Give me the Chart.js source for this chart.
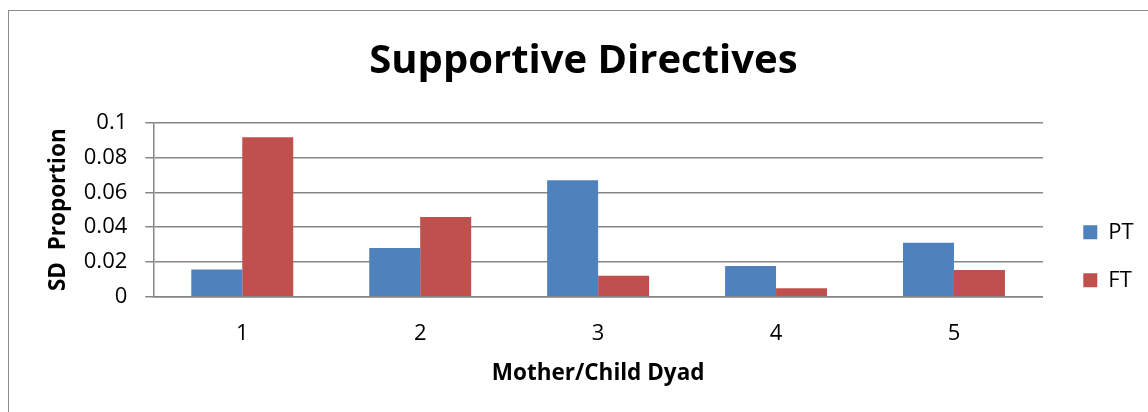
<!DOCTYPE html>
<html>
<head>
<meta charset="utf-8">
<script src="https://cdn.jsdelivr.net/npm/chart.js@4.4.1/dist/chart.umd.min.js"></script>
<style>
  html, body { margin: 0; padding: 0; background: #ffffff; overflow: hidden; }
  #frame { position: absolute; left: 8px; top: 10px; width: 1200px; height: 460px; border: 1px solid #8a8a8a; box-sizing: border-box; }
  #wrap { position: absolute; left: 0; top: 0; width: 1148px; height: 412px; }
</style>
</head>
<body>
<div id="frame"></div>
<div id="wrap"><canvas id="c" width="1148" height="412"></canvas></div>
<script>
const categories = ['1', '2', '3', '4', '5'];
const ptValues = [0.0157, 0.0280, 0.0669, 0.0176, 0.0310];
const ftValues = [0.0916, 0.0458, 0.0121, 0.0048, 0.0153];
const yTickLabels = ['0', '0.02', '0.04', '0.06', '0.08', '0.1'];
const seriesNames = ['PT', 'FT'];
const chartTitle = 'Supportive Directives';
const xTitle = 'Mother/Child Dyad';
const yTitle = 'SD  Proportion';

Chart.defaults.font.family = "'Open Sans', 'Noto Sans', sans-serif";
Chart.defaults.color = '#000000';

const blockPlacer = {
  id: 'blockPlacer',
  beforeDraw(chart) {
    const lg = chart.legend;
    if (lg) {
      const w = lg.width, h = lg.height;
      lg.left = 1057.3; lg.right = lg.left + w;
      lg.top = 195.3; lg.bottom = lg.top + h;
    }
    const tb = chart.titleBlock;
    if (tb) {
      tb.left = 0; tb.right = 1166.8; tb.width = 1166.8;
    }
  }
};

new Chart(document.getElementById('c'), {
  type: 'bar',
  data: {
    labels: categories,
    datasets: [
      { label: seriesNames[0], data: ptValues, backgroundColor: '#4F81BD', borderWidth: 0 },
      { label: seriesNames[1], data: ftValues, backgroundColor: '#C0504D', borderWidth: 0 }
    ]
  },
  options: {
    responsive: false,
    animation: false,
    events: [],
    layout: { padding: { left: 0, right: 18.7, top: 0, bottom: 0 } },
    datasets: { bar: { categoryPercentage: 0.573, barPercentage: 1.0 } },
    plugins: {
      title: {
        display: true,
        text: chartTitle,
        font: { size: 40, weight: 'bold' },
        color: '#000000',
        padding: { top: 37.6, bottom: 37.1 }
      },
      legend: {
        position: 'right',
        align: 'start',
        labels: {
          boxWidth: 14,
          boxHeight: 14,
          padding: 26,
          font: { size: 22 },
          color: '#000000'
        }
      },
      tooltip: { enabled: false }
    },
    scales: {
      x: {
        grid: { display: false },
        border: { display: true, color: '#868686', width: 1.5 },
        ticks: { font: { size: 22 }, padding: 16, color: '#000000' },
        title: {
          display: true, text: xTitle,
          font: { size: 22.5, weight: 'bold' },
          padding: { top: 0, bottom: 25 }
        },
        afterFit(scale) { scale.height = 115.3; }
      },
      y: {
        min: 0, max: 0.1,
        ticks: {
          stepSize: 0.02,
          font: { size: 22 },
          padding: 18,
          color: '#000000',
          callback: (v, i) => yTickLabels[i]
        },
        grid: { color: '#868686', lineWidth: 1.5, tickLength: 8, drawTicks: true },
        border: { display: true, color: '#868686', width: 1.5 },
        title: {
          display: true, text: yTitle,
          font: { size: 22.5, weight: 'bold' },
          padding: { top: 45.5, bottom: 0 }
        },
        afterFit(scale) { scale.width = 153.3; }
      }
    }
  },
  plugins: [blockPlacer]
});
</script>
</body>
</html>
